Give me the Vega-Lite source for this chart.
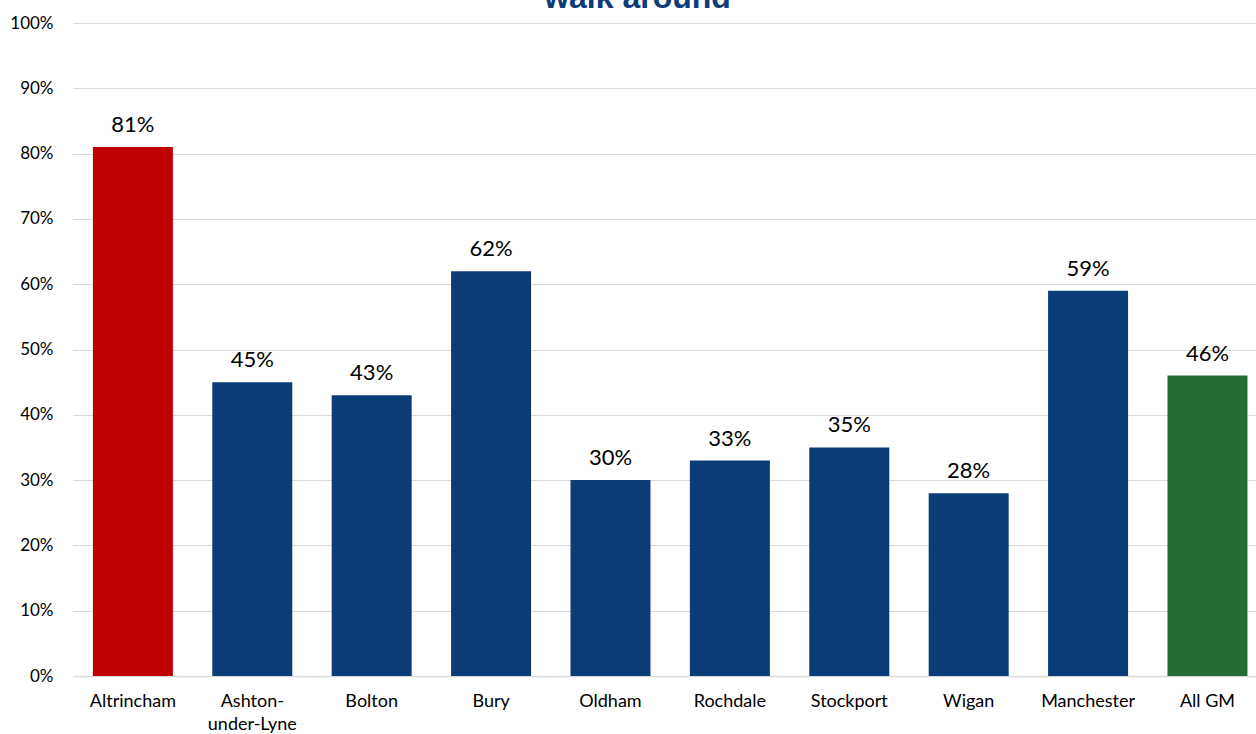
{
  "$schema": "https://vega.github.io/schema/vega-lite/v6.json",
  "autosize": {"type": "none"},
  "width": 1183,
  "height": 653,
  "padding": {"left": 73, "top": 23, "right": 0, "bottom": 58},
  "title": {"text": "walk around", "anchor": "middle", "offset": 0, "dy": 1, "dx": -27, "fontSize": 32, "font": "Liberation Sans", "fontWeight": "bold", "color": "#0b3c78"},
  "data": {"values": [
    {"town": "Altrincham", "value": 0.81, "group": "Altrincham"},
    {"town": "Ashton-under-Lyne", "value": 0.45, "group": "Other"},
    {"town": "Bolton", "value": 0.43, "group": "Other"},
    {"town": "Bury", "value": 0.62, "group": "Other"},
    {"town": "Oldham", "value": 0.30, "group": "Other"},
    {"town": "Rochdale", "value": 0.33, "group": "Other"},
    {"town": "Stockport", "value": 0.35, "group": "Other"},
    {"town": "Wigan", "value": 0.28, "group": "Other"},
    {"town": "Manchester", "value": 0.59, "group": "Other"},
    {"town": "All GM", "value": 0.46, "group": "All GM"}
  ]},
  "encoding": {
    "x": {"field": "town", "type": "nominal", "sort": null,
      "scale": {"paddingInner": 0.33, "paddingOuter": 0.119, "align": 0.7},
      "axis": {"title": null, "labelAngle": 0, "ticks": false, "domainColor": "#d9d9d9", "domainWidth": 1.5, "labelPadding": 16, "labelFontSize": 18, "labelFont": "Lato", "labelColor": "#000000",
        "labelExpr": "datum.label == 'Ashton-under-Lyne' ? ['Ashton-', 'under-Lyne'] : datum.label", "labelLineHeight": 23}},
    "y": {"field": "value", "type": "quantitative",
      "scale": {"domain": [0, 1], "nice": false},
      "axis": {"title": null, "format": ".0%", "values": [0, 0.1, 0.2, 0.3, 0.4, 0.5, 0.6, 0.7, 0.8, 0.9, 1], "ticks": false, "domain": false, "gridColor": "#d9d9d9", "gridWidth": 1.2, "labelPadding": 20, "labelFontSize": 17, "labelFont": "Lato", "labelColor": "#000000"}}
  },
  "layer": [
    {"mark": {"type": "bar"},
      "encoding": {"color": {"field": "group", "type": "nominal", "legend": null,
        "scale": {"domain": ["Altrincham", "Other", "All GM"], "range": ["#c00000", "#0b3c78", "#246b38"]}}}},
    {"mark": {"type": "text", "dy": -22, "fontSize": 22, "font": "Lato", "color": "#000000"},
      "encoding": {"text": {"field": "value", "type": "quantitative", "format": ".0%"}}}
  ],
  "config": {"view": {"stroke": null}}
}
